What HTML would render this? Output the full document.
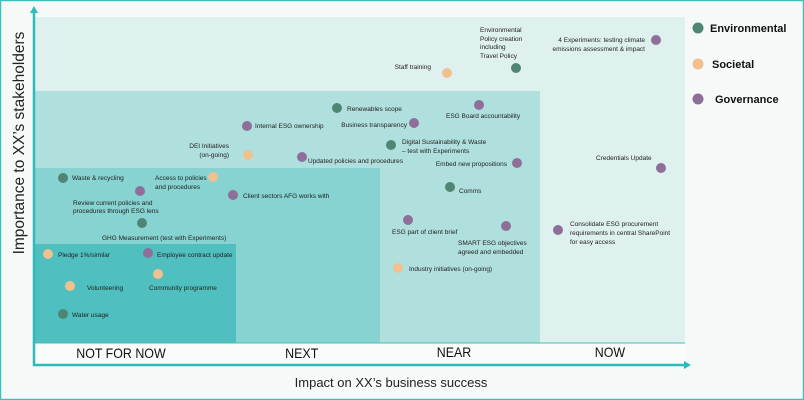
<!DOCTYPE html>
<html><head><meta charset="utf-8"><style>
html,body{margin:0;padding:0;background:#f5faf8;}
svg{display:block;font-family:"Liberation Sans",sans-serif;}
</style></head><body>
<svg width="804" height="400" viewBox="0 0 804 400" xmlns="http://www.w3.org/2000/svg">
<rect x="0.5" y="0.5" width="803" height="399" fill="#f5faf8" stroke="#3cbfbf" stroke-width="1.5"/>
<rect x="35" y="17" width="650" height="326" fill="#dff1ef"/>
<rect x="35" y="91" width="505" height="252" fill="#b0e0de"/>
<rect x="35" y="168" width="345" height="175" fill="#86d3d2"/>
<rect x="35" y="244" width="201" height="99" fill="#50bfbf"/>
<rect x="35" y="343" width="650" height="21" fill="#f8fcfb"/>
<line x1="35" y1="343" x2="685" y2="343" stroke="#3cbfbf" stroke-width="1"/>
<line x1="34" y1="366" x2="34" y2="12" stroke="#2cbcbc" stroke-width="2.5"/>
<polygon points="34,6 30,13 38,13" fill="#2cbcbc"/>
<line x1="33" y1="365" x2="685" y2="365" stroke="#2cbcbc" stroke-width="2.5"/>
<polygon points="691,365 684,361 684,369" fill="#2cbcbc"/>
<g font-size="13.5" fill="#111" text-anchor="middle" transform="scale(0.92,1)">
<text x="131.5" y="358">NOT FOR NOW</text><text x="328" y="358">NEXT</text><text x="493.5" y="357">NEAR</text><text x="663" y="357">NOW</text>
</g>
<text x="391" y="387" font-size="13" fill="#222" text-anchor="middle">Impact on XX’s business success</text>
<text transform="translate(24,143) rotate(-90)" font-size="15.5" fill="#222" text-anchor="middle">Importance to XX’s stakeholders</text>
<g font-size="11" font-weight="bold" fill="#111">
<circle cx="698" cy="28" r="5.5" fill="#4f8574"/><text x="710" y="32">Environmental</text>
<circle cx="698" cy="64" r="5.5" fill="#f0c08f"/><text x="712" y="68">Societal</text>
<circle cx="698" cy="99" r="5.5" fill="#8e6f99"/><text x="715" y="103">Governance</text>
</g>
<g fill="#4f8574">
<circle cx="516" cy="68" r="5"/><circle cx="337" cy="108" r="5"/><circle cx="391" cy="145" r="5"/><circle cx="450" cy="187" r="5"/>
<circle cx="63" cy="178" r="5"/><circle cx="142" cy="223" r="5"/><circle cx="63" cy="314" r="5"/>
</g>
<g fill="#f0c08f">
<circle cx="447" cy="73" r="5"/><circle cx="248" cy="155" r="5"/><circle cx="213" cy="177" r="5"/><circle cx="398" cy="268" r="5"/>
<circle cx="48" cy="254" r="5"/><circle cx="70" cy="286" r="5"/><circle cx="158" cy="274" r="5"/>
</g>
<g fill="#8e6f99">
<circle cx="656" cy="40" r="5"/><circle cx="479" cy="105" r="5"/><circle cx="414" cy="123" r="5"/><circle cx="517" cy="163" r="5"/>
<circle cx="661" cy="168" r="5"/><circle cx="408" cy="220" r="5"/><circle cx="506" cy="226" r="5"/><circle cx="558" cy="230" r="5"/>
<circle cx="247" cy="126" r="5"/><circle cx="302" cy="157" r="5"/><circle cx="140" cy="191" r="5"/><circle cx="233" cy="195" r="5"/><circle cx="148" cy="253" r="5"/>
</g>
<g font-size="6.5" fill="#222">
<text x="480" y="32">Environmental</text><text x="480" y="41">Policy creation</text><text x="480" y="49">including</text><text x="480" y="58">Travel Policy</text>
<text x="431" y="69" text-anchor="end">Staff training</text>
<text x="645" y="42" text-anchor="end">4 Experiments: testing climate</text><text x="645" y="51" text-anchor="end">emissions assessment &amp; impact</text>
<text x="347" y="111">Renewables scope</text>
<text x="446" y="118">ESG Board accountability</text>
<text x="407" y="127" text-anchor="end">Business transparency</text>
<text x="402" y="144">Digital Sustainability &amp; Waste</text><text x="402" y="153">– test with Experiments</text>
<text x="507" y="166" text-anchor="end">Embed new propositions</text>
<text x="596" y="160">Credentials Update</text>
<text x="459" y="193">Comms</text>
<text x="392" y="234">ESG part of client brief</text>
<text x="458" y="245">SMART ESG objectives</text><text x="458" y="254">agreed and embedded</text>
<text x="570" y="226">Consolidate ESG procurement</text><text x="570" y="235">requirements in central SharePoint</text><text x="570" y="244">for easy access</text>
<text x="409" y="271">Industry initiatives (on-going)</text>
<text x="255" y="128">Internal ESG ownership</text>
<text x="229" y="148" text-anchor="end">DEI Initiatives</text><text x="229" y="157" text-anchor="end">(on-going)</text>
<text x="308" y="163">Updated policies and procedures</text>
<text x="72" y="180">Waste &amp; recycling</text>
<text x="155" y="180">Access to policies</text><text x="155" y="189">and procedures</text>
<text x="243" y="198">Client sectors AFG works with</text>
<text x="73" y="205">Review current policies and</text><text x="73" y="213">procedures through ESG lens</text>
<text x="102" y="240">GHG Measurement (test with Experiments)</text>
<text x="58" y="257">Pledge 1%/similar</text>
<text x="157" y="257">Employee contract update</text>
<text x="87" y="290">Volunteering</text>
<text x="149" y="290">Community programme</text>
<text x="72" y="317">Water usage</text>
</g>
</svg>
</body></html>
